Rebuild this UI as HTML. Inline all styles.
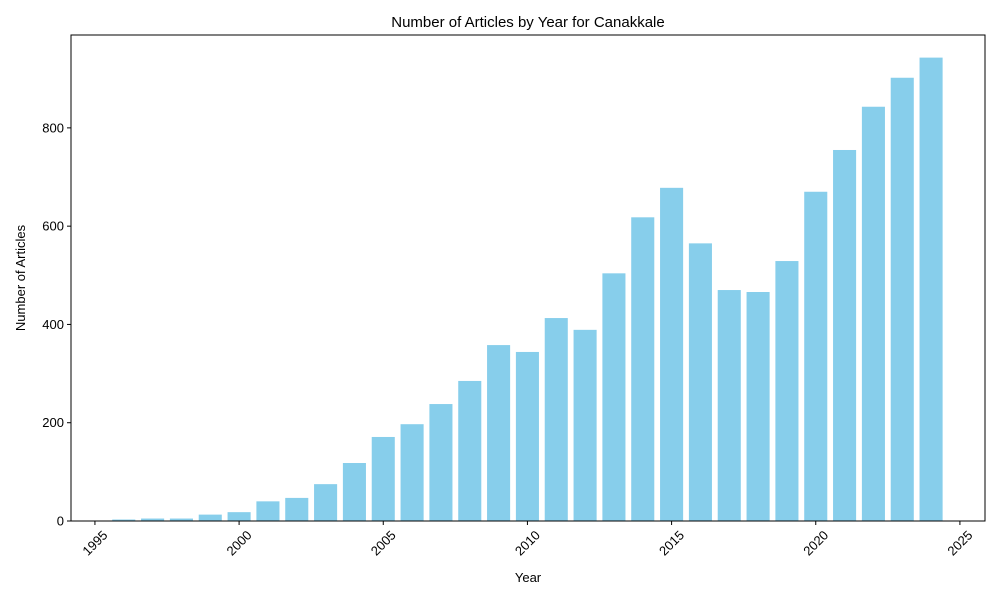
<!DOCTYPE html>
<html><head><meta charset="utf-8"><style>body{margin:0;background:#fff}svg{display:block;font-family:"Liberation Sans","DejaVu Sans",sans-serif}</style></head>
<body>
<svg id="chart" width="1000" height="600">
<rect x="0" y="0" width="1000" height="600" fill="#fff"/>
<text x="528" y="27" text-anchor="middle" font-size="15">Number of Articles by Year for Canakkale</text>
<text x="528" y="582" text-anchor="middle" font-size="13">Year</text>
<text transform="translate(25,278) rotate(-90)" text-anchor="middle" font-size="13">Number of Articles</text>
<g id="bars"></g><g id="axes"></g>
</svg>
<script>
const years=[1996,1997,1998,1999,2000,2001,2002,2003,2004,2005,2006,2007,2008,2009,2010,2011,2012,2013,2014,2015,2016,2017,2018,2019,2020,2021,2022,2023,2024];
const counts=[3,5,5,13,18,40,47,75,118,171,197,238,285,358,344,413,389,504,618,678,565,470,466,529,670,755,843,902,943];
const xTicks=[1995,2000,2005,2010,2015,2020,2025];
const yTicks=[0,200,400,600,800];
const L=71,R=985,T=35,B=521,xMin=1994.17,xMax=2025.87,yMax=989;
const ns="http://www.w3.org/2000/svg";
const xs=v=>L+(v-xMin)/(xMax-xMin)*(R-L);
const ys=v=>B-v/yMax*(B-T);
const bw=(xs(1)-xs(0))*0.8;
const bars=document.getElementById('bars'),axes=document.getElementById('axes');
function mk(tag,attrs,parent){const e=document.createElementNS(ns,tag);for(const k in attrs)e.setAttribute(k,attrs[k]);parent.appendChild(e);return e;}
years.forEach((y,i)=>{
 const r=mk('rect',{x:xs(y)-bw/2,y:ys(counts[i]),width:bw,height:B-ys(counts[i]),fill:'#87ceeb'},bars);
 
 
});
const fr=mk('rect',{x:L,y:T,width:R-L,height:B-T,fill:'none',stroke:'#000','stroke-width':1},axes);


xTicks.forEach(t=>{
 const x=xs(t);
 mk('line',{x1:x,x2:x,y1:B,y2:B+4,stroke:'#000'},axes);
 const tx=mk('text',{x:0,y:4.5,'font-size':13,'text-anchor':'middle',transform:`translate(${x},${B+22}) rotate(-45)`},axes);
 tx.textContent=t;
 
 
});
yTicks.forEach(t=>{
 const y=ys(t);
 mk('line',{x1:L-4,x2:L,y1:y,y2:y,stroke:'#000'},axes);
 const tx=mk('text',{x:L-7,y:y+4.5,'font-size':13,'text-anchor':'end'},axes);
 tx.textContent=t;
 
 
});
</script>
</body></html>
